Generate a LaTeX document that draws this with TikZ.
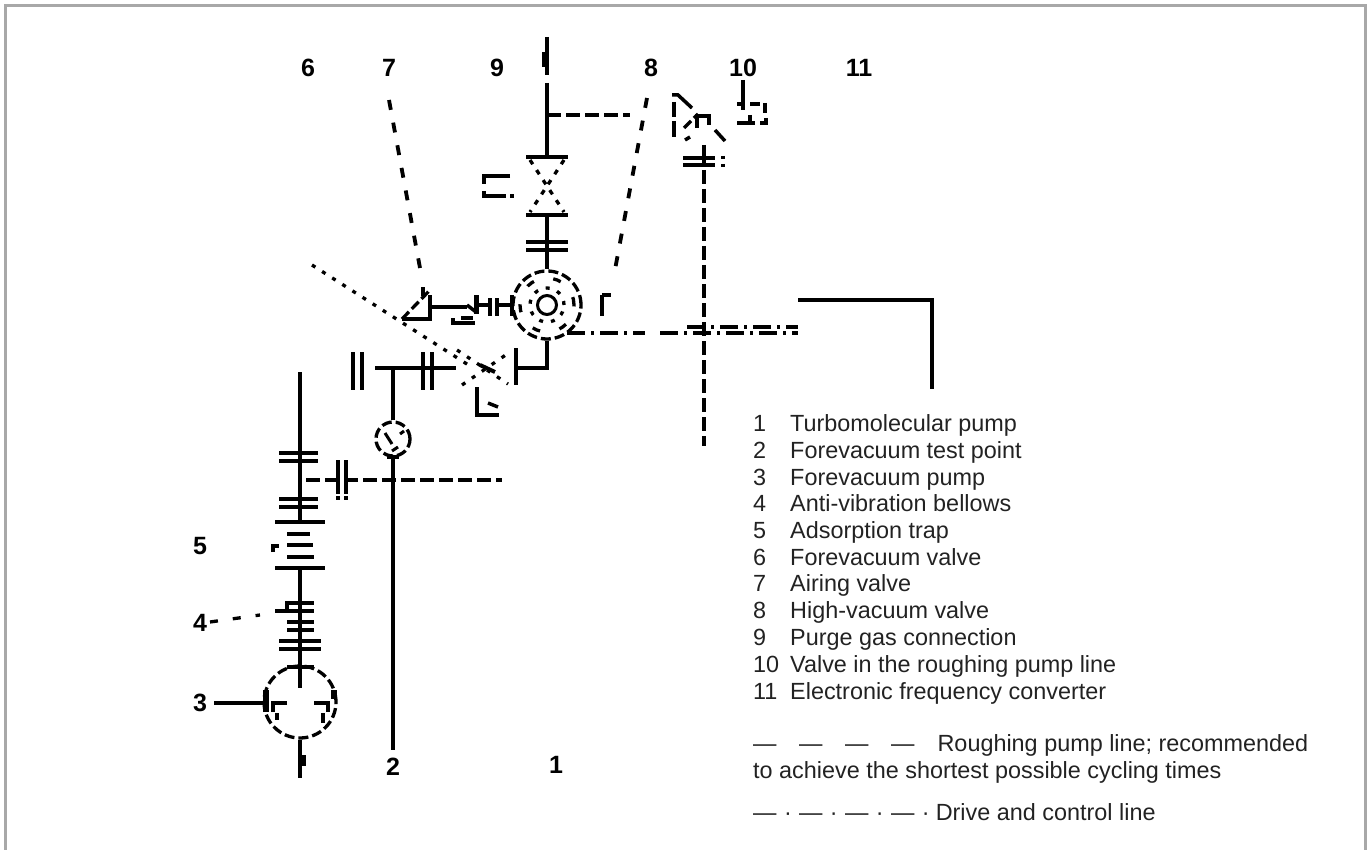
\documentclass[tikz,border=0pt]{standalone}
\usepackage{xcolor}
\usepackage{fontspec}
\setmainfont{Liberation Sans}
\usetikzlibrary{positioning}
\definecolor{framegray}{HTML}{A8A8A8}
\definecolor{legendgray}{HTML}{222222}
\tikzset{
  pipe/.style={line width=3.5pt},
  thinpipe/.style={line width=3pt},
  broken/.style={line width=3.3pt, dash pattern=on 14pt off 5pt},
  leaderline/.style={line width=3.8pt, dash pattern=on 10pt off 13pt},
  chopped/.style={line width=3.3pt, dash pattern=on 10pt off 4pt},
  dotty/.style={line width=3.3pt, dash pattern=on 4pt off 8pt},
  chain/.style={line width=3.3pt, dash pattern=on 18pt off 6pt on 3pt off 6pt},
  tag/.style={font=\fontsize{25}{25}\selectfont\bfseries, inner sep=0pt},
  legendnum/.style={font=\fontsize{23.4}{26}\selectfont, text=legendgray, anchor=base west, inner sep=0pt},
  legendtxt/.style={font=\fontsize{23.4}{26}\selectfont, text=legendgray, anchor=base west, inner sep=0pt}
}
\begin{document}
\begin{tikzpicture}[x=1pt, y=-1pt]
\useasboundingbox (0,0) rectangle (1370,850);
\draw[framegray, line width=3pt] (5.5,850) -- (5.5,5.5) -- (1365,5.5) -- (1365,850);

% top and side numbers
\node[tag] (tag_6) at (308,68) {6};
\node[tag] (tag_7) at (389,68) {7};
\node[tag] (tag_9) at (497,68) {9};
\node[tag] (tag_8) at (651,68) {8};
\node[tag] (tag_10) at (743,68) {10};
\node[tag] (tag_11) at (859,68) {11};
\node[tag] (tag_5) at (200,546) {5};
\node[tag] (tag_4) at (200,623) {4};
\node[tag] (tag_3) at (200,703) {3};
\node[tag] (tag_2) at (393,767) {2};
\node[tag] (tag_1) at (556,765) {1};

% pumps and test point
\node[draw, circle, minimum size=68pt, inner sep=0pt, chopped] (turbo) at (547,305) {};
\node[draw, circle, minimum size=54pt, inner sep=0pt, dotty, dash pattern=on 8pt off 20pt] (turbo_ring) at (547,305) {};
\node[draw, circle, minimum size=34pt, inner sep=0pt, dotty] (turbo_mid) at (547,305) {};
\node[draw, circle, minimum size=19pt, inner sep=0pt, thinpipe] (turbo_core) at (547,305) {};
\node[draw, circle, minimum size=72pt, inner sep=0pt, chopped] (fore) at (300,702) {};
\node[draw, circle, minimum size=34pt, inner sep=0pt, chopped] (test) at (393,439) {};
\draw[thinpipe] (385,433) -- (392,444);
\draw[thinpipe] (398,447) -- (392,451);
\draw[thinpipe] (400,434) -- (404,431);

% main pipes
\coordinate (inlet_top) at (547,83);
\coordinate (hv_top) at (547,157);
\coordinate (hv_bot) at (547,215);
\coordinate (branch) at (547,115);
\coordinate (branch_end) at (630,115);
\draw[pipe] (inlet_top) -- (hv_top);
\draw[pipe] (hv_bot) -- (turbo.north);
\draw[broken] (branch) -- (branch_end);
\draw[pipe] (547,37) -- (547,75);
\draw[line width=5pt] (544,52) -- (544,67);
\draw[pipe] (526,157) -- (568,157);
\draw[pipe] (526,215) -- (568,215);
\draw[dotty, dash pattern=on 5pt off 7pt] (530,160) -- (564,212);
\draw[dotty, dash pattern=on 5pt off 7pt] (564,160) -- (530,212);
\draw[pipe] (526,242) -- (568,242);
\draw[pipe] (526,250) -- (568,250);
\draw[pipe] (510,176) -- (484,176) -- (484,184);
\draw[pipe] (484,191) -- (484,196) -- (506,196);
\draw[pipe] (510,196) -- (514,196);

% flanges left of the pump
\coordinate (air_valve) at (430,307);
\coordinate (air_flange) at (467,307);
\draw[pipe] (air_valve) -- (air_flange);
\draw[pipe] (430,295) -- (430,319) -- (402,319);
\draw[chopped] (402,319) -- (430,290);
\draw[pipe] (423,287) -- (423,296);
\draw[line width=5pt] (476,295) -- (476,314);
\draw[pipe] (490,298) -- (490,316);
\draw[pipe] (497,298) -- (497,316);
\draw[pipe] (512,295) -- (512,316);
\draw[pipe] (497,305) -- (512,305);
\draw[pipe] (477,305) -- (490,305);
\draw[pipe] (467,305) -- (476,312);
\draw[pipe] (473,318) -- (461,318);
\draw[pipe] (453,318) -- (453,323) -- (475,323);

% forevacuum valve
\coordinate (fv_joint) at (547,368);
\coordinate (fv_plate) at (516,368);
\coordinate (fv_pipe) at (456,368);
\coordinate (line_left) at (375,368);
\coordinate (test_joint) at (393,368);
\draw[pipe] (turbo.south) -- (fv_joint) -- (fv_plate);
\draw[pipe] (516,348) -- (516,385);
\draw[pipe] (line_left) -- (fv_pipe);
\draw[pipe] (test_joint) -- (test.north);
\draw[pipe] (353,352) -- (353,390);
\draw[pipe] (362,352) -- (362,390);
\draw[pipe] (423,352) -- (423,390);
\draw[pipe] (432,352) -- (432,390);
\draw[dotty] (457,350) -- (508,384);
\draw[dotty] (462,385) -- (510,352);
\draw[line width=4pt] (480,365) -- (495,372);
\draw[pipe] (477,387) -- (477,415) -- (499,415);
\draw[pipe] (488,403) -- (498,407);
\draw[dotty] (312,265) -- (470,366);

% leaders
\draw[leaderline] (389,100) -- (420,268);
\draw[leaderline] (647,98) -- (614,275);
\draw[pipe] (602,295) -- (602,316);
\draw[pipe] (602,295) -- (611,295);

% test line
\coordinate (test_low) at (393,750);
\draw[pipe] (test.south) -- (test_low);
\draw[pipe] (387,457) -- (399,457);

% roughing line
\coordinate (rough_left) at (306,480);
\coordinate (rough_right) at (502,480);
\draw[broken] (rough_left) -- (rough_right);
\draw[pipe] (338,460) -- (338,494);
\draw[pipe] (346,460) -- (346,494);
\draw[pipe] (338,496) -- (338,500);
\draw[pipe] (346,496) -- (346,500);

% forevacuum stack
\coordinate (stack_top) at (300,372);
\coordinate (stack_plate_a) at (300,522);
\coordinate (stack_plate_b) at (300,568);
\draw[pipe] (stack_top) -- (stack_plate_a);
\draw[pipe] (stack_plate_b) -- (300,688);
\draw[pipe] (279,453) -- (318,453);
\draw[pipe] (279,461) -- (318,461);
\draw[pipe] (279,499) -- (318,499);
\draw[pipe] (279,507) -- (318,507);
\draw[pipe] (275,522) -- (325,522);
\draw[pipe] (275,568) -- (325,568);
\draw[pipe] (287,534) -- (310,534);
\draw[pipe] (287,545) -- (313,545);
\draw[line width=4pt] (287,557) -- (314,557);
\draw[pipe] (273,552) -- (273,546) -- (279,546);
\draw[pipe] (287,611) -- (287,603) -- (314,603);
\draw[pipe] (275,611) -- (314,611);
\draw[pipe] (287,622) -- (314,622);
\draw[pipe] (287,630) -- (314,630);
\draw[pipe] (279,641) -- (321,641);
\draw[pipe] (279,649) -- (321,649);
\draw[pipe] (287,667) -- (314,667);
\draw[broken, dash pattern=on 8pt off 15pt] (210,622) -- (260,615);

% inside the pump
\coordinate (fore_outlet) at (300,778);
\coordinate (fore_left) at (265,703);
\coordinate (tag_3_end) at (214,703);
\draw[pipe] (fore.south) -- (fore_outlet);
\draw[line width=5pt] (303,755) -- (303,766);
\draw[pipe] (tag_3_end) -- (fore_left);
\draw[line width=6pt] (266,690) -- (266,712);
\draw[line width=6pt] (334,690) -- (334,699);
\draw[pipe] (287,703) -- (273,703) -- (273,712);
\draw[pipe] (277,713) -- (277,720);
\draw[pipe] (314,703) -- (328,703) -- (328,712);
\draw[pipe] (323,713) -- (323,723);

% valve in the roughing line
\coordinate (rv_bot) at (704,170);
\coordinate (rv_low) at (704,446);
\draw[broken] (rv_bot) -- (rv_low);
\draw[pipe] (704,145) -- (704,165);
\draw[pipe] (683,158) -- (715,158);
\draw[pipe] (683,165) -- (715,165);
\draw[pipe] (723,156) -- (723,159);
\draw[pipe] (723,164) -- (723,167);
\draw[pipe] (674,102) -- (674,117);
\draw[pipe] (674,121) -- (674,137);
\draw[pipe] (672,95) -- (678,95) -- (692,108);
\draw[pipe] (697,128) -- (697,116) -- (709,116) -- (709,125);
\draw[chopped] (684,128) -- (698,114);
\draw[pipe] (685,140) -- (690,137);
\draw[pipe] (715,130) -- (725,141);
\draw[pipe] (743,80) -- (743,110);
\draw[pipe] (737,104) -- (743,104);
\draw[pipe] (750,104) -- (760,104);
\draw[pipe] (765,103) -- (765,113);
\draw[pipe] (737,123) -- (755,123);
\draw[pipe] (750,115) -- (750,122);
\draw[pipe] (760,123) -- (768,123);
\draw[pipe] (766,118) -- (766,123);

% drive line
\coordinate (drive_start) at (567,333);
\coordinate (drive_gap) at (645,333);
\coordinate (drive_on) at (660,333);
\coordinate (drive_end) at (798,333);
\coordinate (conv_start) at (798,300);
\coordinate (conv_corner) at (932,300);
\coordinate (conv_end) at (932,389);
\coordinate (drive2_start) at (687,327);
\coordinate (drive2_end) at (798,327);
\draw[chain] (drive_start) -- (drive_gap);
\draw[chain] (drive_on) -- (drive_end);
\draw[chain] (drive2_start) -- (drive2_end);
\draw[pipe] (conv_start) -- (conv_corner) -- (conv_end);

% legend
\node[legendnum] (num_1) at (753,431) {1};
\node[legendtxt] (txt_1) at (790,431) {Turbomolecular pump};
\node[legendnum] (num_2) at (753,458) {2};
\node[legendtxt] (txt_2) at (790,458) {Forevacuum test point};
\node[legendnum] (num_3) at (753,485) {3};
\node[legendtxt] (txt_3) at (790,485) {Forevacuum pump};
\node[legendnum] (num_4) at (753,511) {4};
\node[legendtxt] (txt_4) at (790,511) {Anti-vibration bellows};
\node[legendnum] (num_5) at (753,538) {5};
\node[legendtxt] (txt_5) at (790,538) {Adsorption trap};
\node[legendnum] (num_6) at (753,565) {6};
\node[legendtxt] (txt_6) at (790,565) {Forevacuum valve};
\node[legendnum] (num_7) at (753,591) {7};
\node[legendtxt] (txt_7) at (790,591) {Airing valve};
\node[legendnum] (num_8) at (753,618) {8};
\node[legendtxt] (txt_8) at (790,618) {High-vacuum valve};
\node[legendnum] (num_9) at (753,645) {9};
\node[legendtxt] (txt_9) at (790,645) {Purge gas connection};
\node[legendnum] (num_10) at (753,672) {10};
\node[legendtxt] (txt_10) at (790,672) {Valve in the roughing pump line};
\node[legendnum] (num_11) at (753,699) {11};
\node[legendtxt] (txt_11) at (790,699) {Electronic frequency converter};
\node[legendtxt] (rough_key) at (753,751) {—\hspace{22.6pt}—\hspace{22.6pt}—\hspace{22.6pt}—\hspace{23pt}Roughing pump line; recommended};
\node[legendtxt] (rough_key2) at (753,778) {to achieve the shortest possible cycling times};
\node[legendtxt] (drive_key) at (753,820) {—\hspace{7.4pt}·\hspace{7.4pt}—\hspace{7.4pt}·\hspace{7.4pt}—\hspace{7.4pt}·\hspace{7.4pt}—\hspace{7.4pt}·\hspace{6pt}Drive and control line};
\end{tikzpicture}
\end{document}
